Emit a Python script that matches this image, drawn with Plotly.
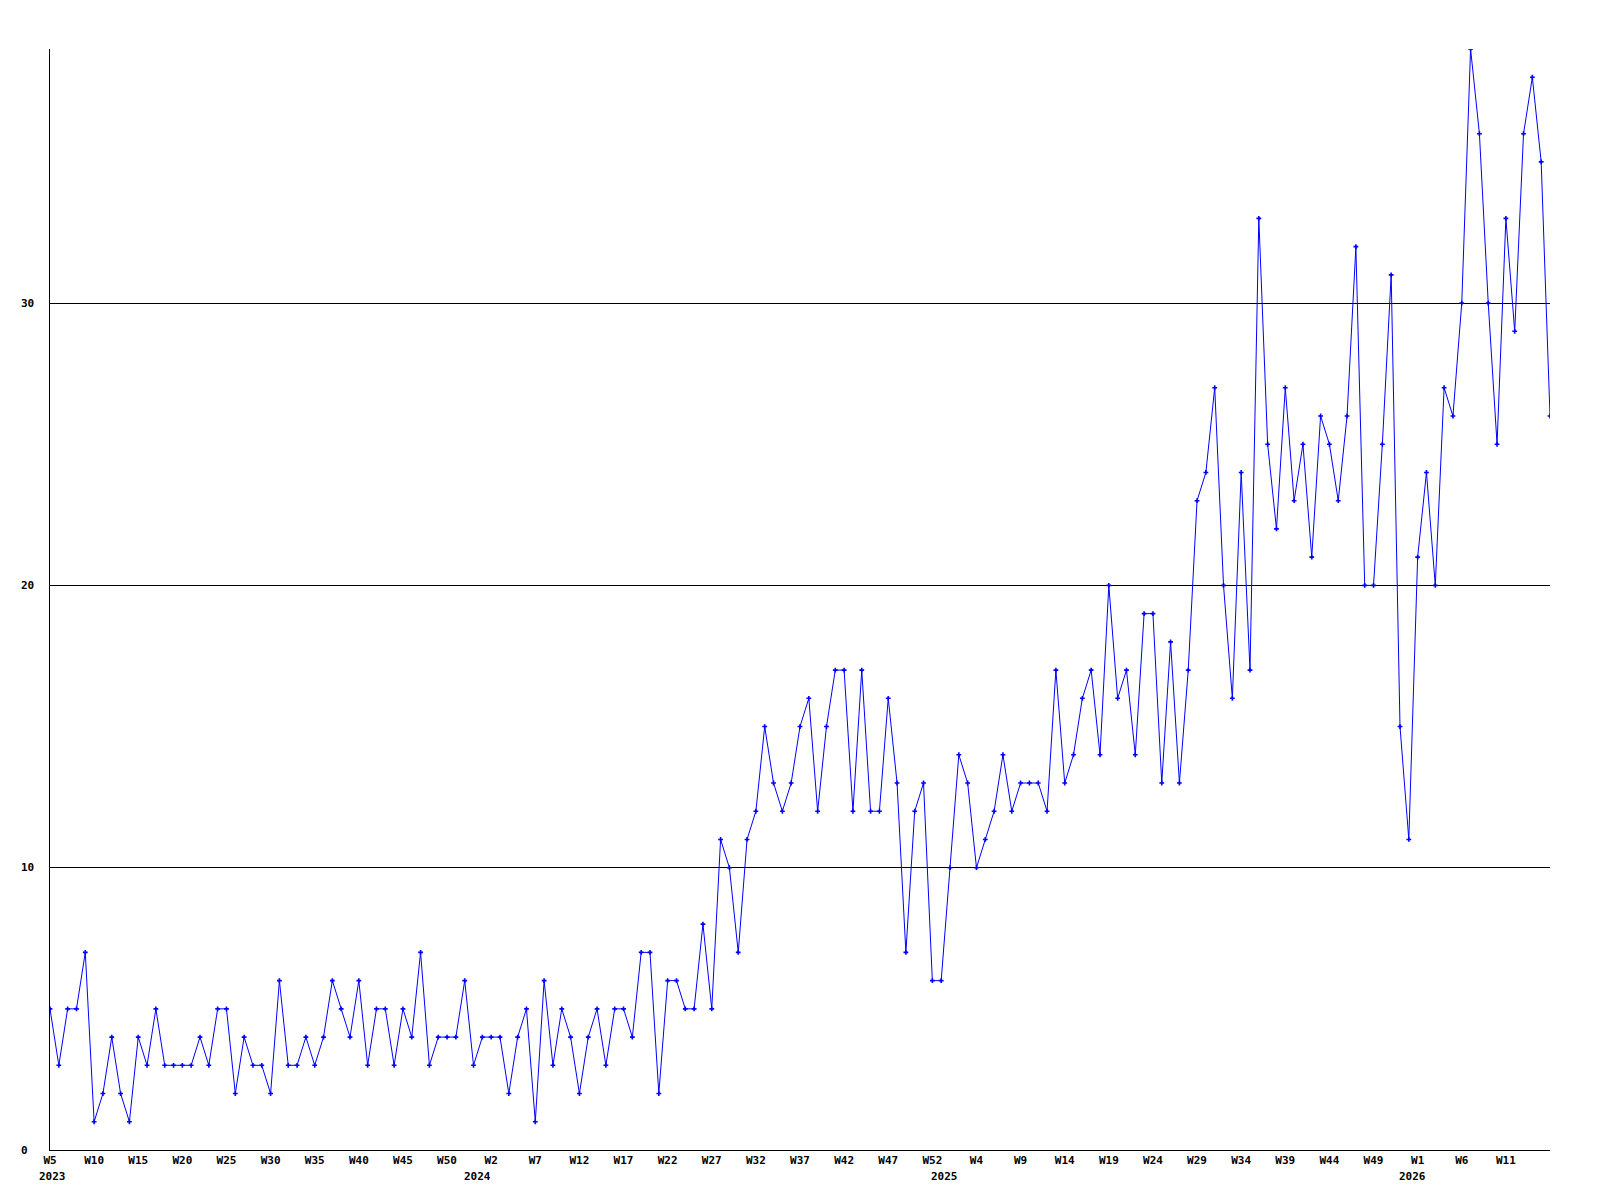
import plotly.graph_objects as go

# Weekly values (53 week slots per year)
start_year = 2023
start_week = 5
weeks_per_year = 53

values_2023 = [5, 3, 5, 5, 7, 1, 2, 4, 2, 1,
               4, 3, 5, 3, 3, 3, 3, 4, 3, 5,
               5, 2, 4, 3, 3, 2, 6, 3, 3, 4,
               3, 4, 6, 5, 4, 6, 3, 5, 5, 3,
               5, 4, 7, 3, 4, 4, 4, 6, 3]
values_2024 = [4, 4, 4, 2, 4, 5, 1,
               6, 3, 5, 4, 2, 4, 5, 3, 5, 5,
               4, 7, 7, 2, 6, 6, 5, 5, 8, 5,
               11, 10, 7, 11, 12, 15, 13, 12, 13, 15,
               16, 12, 15, 17, 17, 12, 17, 12, 12, 16,
               13, 7, 12, 13, 6, 6]
values_2025 = [10, 14, 13, 10, 11, 12, 14, 12,
               13, 13, 13, 12, 17, 13, 14, 16, 17, 14,
               20, 16, 17, 14, 19, 19, 13, 18, 13, 17,
               23, 24, 27, 20, 16, 24, 17, 33, 25, 22,
               27, 23, 25, 21, 26, 25, 23, 26, 32, 20,
               20, 25, 31, 15, 11]
values_2026 = [21, 24, 20, 27, 26, 30, 39, 36, 30, 25, 33, 29, 36, 38, 35, 26]

values = values_2023 + values_2024 + values_2025 + values_2026

# Week categories
weeks = []
y, w = start_year, start_week
for _ in values:
    weeks.append(f"{y}-W{w:02d}")
    w += 1
    if w > weeks_per_year:
        w = 1
        y += 1

tick_labels = ["W5", "W10", "W15", "W20", "W25", "W30", "W35", "W40", "W45", "W50",
               "W2", "W7", "W12", "W17", "W22", "W27", "W32", "W37", "W42", "W47", "W52",
               "W4", "W9", "W14", "W19", "W24", "W29", "W34", "W39", "W44", "W49",
               "W1", "W6", "W11"]
tick_cats = weeks[::5][:len(tick_labels)]

year_labels = ["2023", "2024", "2025", "2026"]
year_positions = [0.3, 48.4, 101.4, 154.4]

y_ticks = [0, 10, 20, 30]

FONT = "DejaVu Sans Mono"
plot_w = 1500
plot_h = 1101

fig = go.Figure()
fig.add_trace(go.Scatter(
    x=weeks, y=values, mode="lines+markers",
    line=dict(color="#0000FF", width=1),
    marker=dict(symbol="cross", size=4, color="#0000FF", line=dict(width=0)),
    hoverinfo="x+y", showlegend=False,
))

annotations = []
for lab, pos in zip(year_labels, year_positions):
    annotations.append(dict(
        x=pos, y=-26 / plot_h, xref="x", yref="paper", yanchor="middle", xanchor="center",
        text=lab, showarrow=False,
        font=dict(family=FONT, size=11, color="black", weight="bold"),
    ))
for t in y_ticks:
    annotations.append(dict(
        x=-31 / plot_w, y=t, xref="paper", yref="y", xanchor="left", yanchor="middle",
        text=str(t), showarrow=False,
        font=dict(family=FONT, size=11, color="black", weight="bold"),
    ))

fig.update_layout(
    width=1592, height=1192,
    margin=dict(l=42, r=50, t=41, b=50),
    paper_bgcolor="white", plot_bgcolor="white",
    annotations=annotations,
    xaxis=dict(
        type="category", categoryorder="array", categoryarray=weeks,
        range=[0, len(values) - 1],
        tickmode="array", tickvals=tick_cats, ticktext=tick_labels,
        tickangle=0,
        showgrid=False, zeroline=False,
        showline=True, linecolor="black", linewidth=1,
        ticks="", tickfont=dict(family=FONT, size=11, color="black", weight="bold"),
    ),
    yaxis=dict(
        range=[0, 39],
        tickvals=y_ticks, showticklabels=False,
        showgrid=True, gridcolor="black", gridwidth=1,
        zeroline=False,
        showline=True, linecolor="black", linewidth=1,
        ticks="",
    ),
)

fig.write_html("out.html")
